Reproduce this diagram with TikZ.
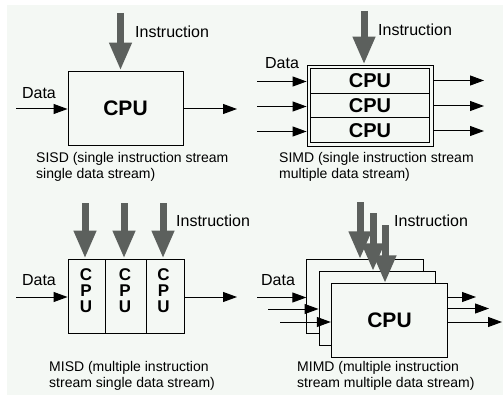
\documentclass[tikz,border=0pt]{standalone}
\usepackage{fontspec}
\setmainfont{Liberation Sans}
\usetikzlibrary{arrows.meta}
\definecolor{bg}{RGB}{244,248,244}
\definecolor{instr}{RGB}{92,96,93}
\tikzset{
  box/.style={draw=black, line width=0.9pt, inner sep=0pt, fill=bg},
  instrarrow/.style={draw=instr, line width=7pt, -{Triangle[width=21pt,length=28pt]}},
  dataarrow/.style={draw=black, line width=1pt, -{Triangle[width=10pt,length=14pt]}},
  lbl/.style={font=\fontsize{16}{18}\selectfont, inner sep=0pt, anchor=west},
  captxt/.style={font=\fontsize{14}{16}\selectfont, inner sep=0pt, anchor=north west, align=left},
  cpu/.style={font=\fontsize{21}{24}\selectfont\bfseries, inner sep=0pt},
  cpusm/.style={font=\fontsize{20}{22}\selectfont\bfseries, inner sep=0pt},
  cpuv/.style={font=\fontsize{17}{16}\selectfont\bfseries, inner sep=0pt, align=center}
}
\begin{document}
\begin{tikzpicture}[x=1pt,y=-1pt]
\useasboundingbox (0,0) rectangle (503,401);
\fill[bg] (7,5) rectangle (503,395);

% ---------- SISD ----------
\node[box, minimum width=115pt, minimum height=74pt] (sisd) at (125.5,108) {};
\node[cpu] (sisdcpu) at (sisd.center) {CPU};
\coordinate (sisdI) at (120.5,13);
\draw[instrarrow] (sisdI) -- (sisdI |- sisd.north);
\node[lbl] (sisdIt) at (135,32) {Instruction};
\node[lbl, anchor=center] (sisdD) at (39,93) {Data};
\coordinate (sisdin) at (16,109);
\draw[dataarrow] (sisdin) -- (sisdin -| sisd.west);
\coordinate (sisdout) at (237,109);
\draw[dataarrow] (sisdout -| sisd.east) -- (sisdout);
\node[captxt] (sisdcap) at (36,152) {SISD (single instruction stream\\single data stream)};

% ---------- SIMD ----------
\node[box, minimum width=126pt, minimum height=81pt] (simd) at (370,105.5) {};
\node[box, minimum width=119pt, minimum height=24.67pt, cpusm] (simd1) at (370,80.83) {CPU};
\node[box, minimum width=119pt, minimum height=24.67pt, cpusm] (simd2) at (370,105.5) {CPU};
\node[box, minimum width=119pt, minimum height=24.67pt, cpusm] (simd3) at (370,130.17) {CPU};
\coordinate (simdI) at (364,11);
\draw[instrarrow] (simdI) -- (simdI |- simd.north);
\node[lbl] (simdIt) at (378,30) {Instruction};
\node[lbl, anchor=center] (simdD) at (282,63) {Data};
\coordinate (simdin1) at (257,81.5);
\coordinate (simdin2) at (257,106.5);
\coordinate (simdin3) at (257,131.5);
\draw[dataarrow] (simdin1) -- (simdin1 -| simd.west);
\draw[dataarrow] (simdin2) -- (simdin2 -| simd.west);
\draw[dataarrow] (simdin3) -- (simdin3 -| simd.west);
\coordinate (simdout1) at (484,80.5);
\coordinate (simdout2) at (484,106);
\coordinate (simdout3) at (484,131);
\draw[dataarrow] (simdout1 -| simd.east) -- (simdout1);
\draw[dataarrow] (simdout2 -| simd.east) -- (simdout2);
\draw[dataarrow] (simdout3 -| simd.east) -- (simdout3);
\node[captxt] (simdcap) at (279,152) {SIMD (single instruction stream\\multiple data stream)};

% ---------- MISD ----------
\node[box, minimum width=37pt, minimum height=74pt] (misd1) at (86.5,296) {};
\node[box, minimum width=41pt, minimum height=74pt] (misd2) at (125.5,296) {};
\node[box, minimum width=38pt, minimum height=74pt] (misd3) at (165,296) {};
\node[cpuv] (misdt1) at (86,291) {C\\P\\U};
\node[cpuv] (misdt2) at (125,291) {C\\P\\U};
\node[cpuv] (misdt3) at (163.5,291) {C\\P\\U};
\coordinate (misdI1) at (85,203);
\coordinate (misdI2) at (124,203);
\coordinate (misdI3) at (163,203);
\draw[instrarrow] (misdI1) -- (misdI1 |- misd1.north);
\draw[instrarrow] (misdI2) -- (misdI2 |- misd2.north);
\draw[instrarrow] (misdI3) -- (misdI3 |- misd3.north);
\node[lbl] (misdIt) at (176,221) {Instruction};
\node[lbl, anchor=center] (misdD) at (39,280) {Data};
\coordinate (misdin) at (16,297);
\draw[dataarrow] (misdin) -- (misdin -| misd1.west);
\coordinate (misdout) at (237,297);
\draw[dataarrow] (misdout -| misd3.east) -- (misdout);
\node[captxt] (misdcap) at (49,361) {MISD (multiple instruction\\stream single data stream)};

% ---------- MIMD ----------
\node[box, minimum width=116.5pt, minimum height=73.5pt] (mimd1) at (365,296.5) {};
\node[box, minimum width=116.5pt, minimum height=73.5pt] (mimd2) at (377.25,308.5) {};
\node[box, minimum width=116.5pt, minimum height=73.5pt] (mimd3) at (389.5,320.5) {};
\node[cpu] (mimdcpu) at (mimd3.center) {CPU};
\coordinate (mimdI1) at (360,202);
\coordinate (mimdI2) at (373,213);
\coordinate (mimdI3) at (385,225);
\draw[instrarrow] (mimdI1) -- (mimdI1 |- mimd1.north);
\draw[instrarrow] (mimdI2) -- (mimdI2 |- mimd2.north);
\draw[instrarrow] (mimdI3) -- (mimdI3 |- mimd3.north);
\node[lbl] (mimdIt) at (394,221) {Instruction};
\node[lbl, anchor=center] (mimdD) at (278,280) {Data};
\coordinate (mimdin1) at (257,297.5);
\coordinate (mimdin2) at (268,309);
\coordinate (mimdin3) at (280,322);
\draw[dataarrow] (mimdin1) -- (mimdin1 -| mimd1.west);
\draw[dataarrow] (mimdin2) -- (mimdin2 -| mimd2.west);
\draw[dataarrow] (mimdin3) -- (mimdin3 -| mimd3.west);
\coordinate (mimdout1) at (476,297);
\coordinate (mimdout2) at (489,308.5);
\coordinate (mimdout3) at (502,322);
\draw[dataarrow] (mimdout1 -| mimd3.east) -- (mimdout1);
\draw[dataarrow] (mimdout2 -| mimd3.east) -- (mimdout2);
\draw[dataarrow] (mimdout3 -| mimd3.east) -- (mimdout3);
\node[captxt] (mimdcap) at (297,361) {MIMD (multiple instruction\\stream multiple data stream)};
\end{tikzpicture}
\end{document}
